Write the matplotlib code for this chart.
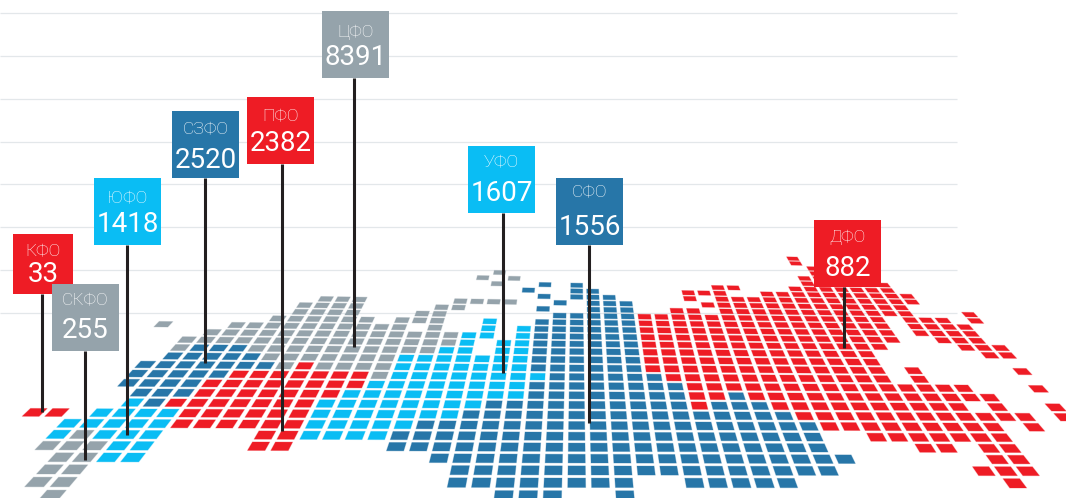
import matplotlib as mpl
mpl.use('Agg')
import matplotlib.pyplot as plt
from matplotlib.collections import PolyCollection
from matplotlib.colors import to_rgba

# federal districts: name, value, colour key
districts = ['КФО', 'СКФО', 'ЮФО', 'СЗФО', 'ПФО', 'ЦФО', 'УФО', 'СФО', 'ДФО']
values = [33, 255, 1418, 2520, 2382, 8391, 1607, 1556, 882]
district_tone = ['r', 'g', 'c', 'b', 'r', 'g', 'c', 'b', 'r']

colors = {'r': '#ee1c25', 'g': '#95a3ab', 'c': '#0abdf4', 'b': '#2776a8'}

# tile map, bottom row first. each row is a list of (tone, first col, last col)
map_rows = [
	[('g', -21, -21), ('b', -3, -1), ('b', 2, 2)],
	[('g', -22, -21), ('b', -5, 2), ('b', 5, 9), ('r', 19, 19)],
	[('g', -22, -21), ('b', -5, 11), ('r', 18, 20)],
	[('g', -22, -21), ('c', -20, -19), ('b', -6, 12), ('r', 19, 20)],
	[('g', -23, -21), ('c', -20, -19), ('r', -14, -13), ('b', -8, 11), ('r', 16, 17), ('r', 19, 20)],
	[('c', -23, -23), ('g', -22, -22), ('c', -21, -19), ('r', -14, -13), ('c', -12, -9), ('b', -8, 11), ('r', 14, 20)],
	[('c', -23, -19), ('r', -18, -13), ('c', -12, -8), ('b', -7, 11), ('r', 12, 20), ('r', 22, 22)],
	[('r', -25, -24), ('c', -22, -19), ('r', -18, -13), ('c', -12, -6), ('b', -5, 10), ('r', 11, 22), ('r', 24, 24)],
	[('c', -21, -21), ('b', -20, -20), ('r', -19, -13), ('c', -12, -5), ('b', -4, 5), ('r', 6, 6), ('b', 7, 9), ('r', 10, 19), ('r', 21, 21), ('r', 24, 24)],
	[('b', -21, -19), ('r', -18, -12), ('c', -11, -3), ('b', -2, 5), ('r', 6, 7), ('b', 8, 8), ('r', 9, 21)],
	[('b', -22, -19), ('r', -18, -11), ('c', -10, -3), ('b', -2, 5), ('r', 6, 20), ('r', 24, 24)],
	[('b', -22, -18), ('r', -17, -11), ('g', -10, -10), ('c', -9, -2), ('b', -1, 4), ('r', 5, 16), ('r', 18, 18)],
	[('b', -22, -16), ('g', -15, -15), ('r', -14, -14), ('g', -13, -10), ('c', -9, -3), ('b', -2, 3), ('r', 4, 16), ('r', 18, 18), ('r', 24, 24)],
	[('b', -21, -17), ('g', -16, -10), ('c', -9, -3), ('b', -2, 3), ('r', 4, 16)],
	[('g', -21, -21), ('b', -20, -18), ('g', -17, -8), ('c', -7, -6), ('c', -4, -3), ('b', -2, 3), ('r', 4, 16), ('r', 23, 24)],
	[('g', -21, -7), ('c', -6, -6), ('c', -4, -3), ('b', -2, 3), ('r', 4, 17), ('r', 22, 24)],
	[('g', -20, -7), ('c', -6, -5), ('c', -3, -3), ('b', -2, 3), ('r', 4, 18), ('r', 21, 23)],
	[('g', -23, -23), ('g', -19, -10), ('g', -8, -8), ('c', -5, -5), ('c', -3, -3), ('b', -2, 3), ('r', 4, 18), ('r', 20, 23)],
	[('g', -17, -12), ('g', -10, -8), ('c', -5, -5), ('b', -2, 3), ('r', 4, 18), ('r', 20, 23)],
	[('g', -16, -13), ('g', -9, -8), ('b', -1, 3), ('r', 4, 18), ('r', 20, 22), ('r', 24, 24)],
	[('g', -16, -13), ('g', -8, -7), ('b', -2, -2), ('b', 1, 3), ('r', 6, 7), ('r', 9, 20), ('r', 24, 24)],
	[('g', -15, -13), ('g', -7, -4), ('b', -1, -1), ('b', 1, 3), ('r', 8, 20)],
	[('b', -2, -2), ('b', 0, 2), ('r', 7, 7), ('r', 9, 21)],
	[('b', -3, -3), ('b', 0, 1), ('r', 7, 9), ('r', 12, 21)],
	[('g', -5, -5), ('b', -2, -2), ('b', 0, 0), ('r', 9, 10), ('r', 14, 20)],
	[('g', -6, -6), ('g', -4, -4), ('r', 15, 20)],
	[('g', -5, -5), ('r', 15, 19)],
	[('r', 16, 18)],
	[('r', 16, 17)],
	[('r', 15, 15)],
	[('r', 15, 15)],
]

# label boxes in pixels: left, top, side
box_left = [13, 52, 94, 172, 247, 322, 468, 556, 814]
box_top = [234, 284, 178, 111, 97, 11, 146, 178, 220]
box_w = [60, 67, 67, 67, 67, 67, 67, 67, 67]
box_h = [60, 67, 67, 67, 67, 67, 67, 67, 67]
name_dy = [18, 17, 21, 19, 20, 21, 17, 15, 17]
num_dy = [40, 46, 46, 49, 46, 46, 47, 49, 48]
pin_x = [42.3, 85.3, 127.3, 205.3, 282, 353.5, 503.3, 589.3, 844.3]
pin_end = [411.7, 460, 435, 363, 430.7, 346.7, 372.7, 422.7, 347.7]

grid_y = [13.3, 56, 99, 141.7, 184.3, 227.3, 270.3, 313.3]

W, H = 1066, 498
plt.rcParams['font.family'] = ['Roboto', 'DejaVu Sans']


def project(i, j):
	# floor grid to screen, vanishing point well above the picture
	horizon = -110.
	base = 27830. / (46. + j)
	drift = 0.6 - 2.9 * min(max((j - 5) / 9., 0.), 1.)
	tilt = (0.02 + 0.01 * j) * (1.2 if i < 0 else 1.)
	y = horizon + base + drift + i * tilt
	g = 0.04 * i - 0.00006 * i * i
	x = 576.7 + g * (y - horizon)
	return x, y


def tile(i, j, half=0.375):
	return [project(i - half, j - half), project(i + half, j - half),
			project(i + half, j + half), project(i - half, j + half)]


fig = plt.figure(figsize=(W / 100., H / 100.), dpi=100)
ax = fig.add_axes([0, 0, 1, 1])
ax.set_xlim(0, W)
ax.set_ylim(H, 0)
ax.axis('off')

ax.hlines(grid_y, 0, 957, color='#e3e7ea', lw=0.9, zorder=1)

polys = []
facecolors = []
for j, row in enumerate(map_rows):
	for tone, first, last in row:
		for i in range(first, last + 1):
			polys.append(tile(i, j))
			facecolors.append(colors[tone])
edgecolors = [to_rgba(c, 0.3) for c in facecolors]
ax.add_collection(PolyCollection(polys, facecolors=facecolors, edgecolors=edgecolors,
		linewidths=0.7, zorder=2))

for k, name in enumerate(districts):
	ax.plot([pin_x[k], pin_x[k]], [box_top[k] + box_h[k], pin_end[k]],
			color='#231f20', lw=2.2, solid_capstyle='butt', zorder=3)
	ax.add_patch(plt.Rectangle((box_left[k], box_top[k]), box_w[k], box_h[k],
			color=colors[district_tone[k]], lw=0, zorder=4))
	cx = box_left[k] + box_w[k] / 2.
	ax.text(cx, box_top[k] + name_dy[k], name, color='white', fontsize=12.6,
			fontweight='light', ha='center', va='center', zorder=5)
	ax.text(cx, box_top[k] + num_dy[k], str(values[k]), color='white', fontsize=20,
			fontweight='normal', ha='center', va='center', zorder=5)

fig.savefig('out.png', dpi=100)
